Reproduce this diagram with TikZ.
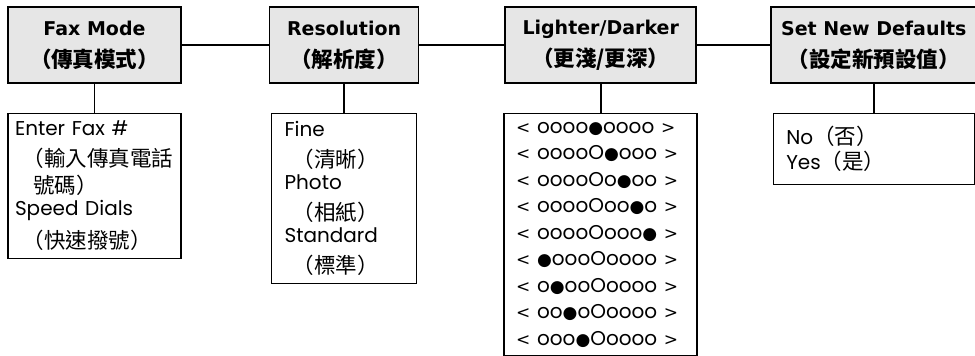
\documentclass[tikz,border=0pt]{standalone}
\usepackage{fontspec}
\setmainfont{Poppins}
\newfontfamily\cjk{Noto Sans CJK TC}
\newfontfamily\symf{DejaVu Sans}
\usetikzlibrary{positioning}
\definecolor{hdrgray}{RGB}{230,230,230}
\newcommand{\dotf}{{\symf\fontsize{17}{17}\selectfont ●}}
\newcommand{\zh}[1]{{\cjk\fontsize{21.5}{21.5}\selectfont #1}}
\newcommand{\lt}{{\symf\fontsize{17}{17}\selectfont <}}
\newcommand{\gt}{{\symf\fontsize{17}{17}\selectfont >}}

\begin{document}
\begin{tikzpicture}[x=1pt, y=-1pt, line width=1.6pt,
 hdr/.style={draw, fill=hdrgray, minimum height=76pt, align=center, inner sep=0pt, font=\symf\fontsize{19}{31}\selectfont\bfseries},
 sub/.style={draw, align=left, inner ysep=0pt, font=\fontsize{20}{26}\selectfont}]
\useasboundingbox (0,0) rectangle (975,356);
% menu headers
\node[hdr, minimum width=173pt] (fax) at (94.5,45) {Fax Mode\\[1pt]\zh{（傳真模式）}};
\node[hdr, minimum width=149pt, right=87pt of fax] (res) {Resolution\\[1pt]\zh{（解析度）}};
\node[hdr, minimum width=191pt, right=85pt of res] (ld) {Lighter/Darker\\[1pt]\zh{（更淺/更深）}};
\node[hdr, minimum width=206pt, right=73pt of ld] (snd) {Set New Defaults\\[1pt]\zh{（設定新預設值）}};
\draw (fax) -- (res);
\draw (res) -- (ld);
\draw (ld) -- (snd);
% option lists
\node[sub, inner xsep=7pt, text width=159pt, minimum height=145pt, below=29pt of fax] (fax1)
 {Enter Fax \#\\[5pt]
  \hspace*{8pt}\zh{（輸入傳真電話}\\[1pt]
  \hspace*{18pt}\zh{號碼）}\\[-4pt]
  Speed Dials\\[7pt]
  \hspace*{8pt}\zh{（快速撥號）}};
\node[sub, inner xsep=13pt, text width=119pt, minimum height=170pt, below=29pt of res] (res1)
 {Fine\\[5pt]
  \hspace*{8pt}\zh{（清晰）}\\[-4pt]
  Photo\\[5pt]
  \hspace*{8pt}\zh{（相紙）}\\[-4pt]
  Standard\\[5pt]
  \hspace*{8pt}\zh{（標準）}};
\node[sub, inner xsep=12pt, text width=169pt, minimum height=242pt, below=29pt of ld, font=\fontsize{20}{26.5}\selectfont] (ld1)
 {\lt\ oooo\dotf oooo \gt\\
  \lt\ ooooO\dotf ooo \gt\\
  \lt\ ooooOo\dotf oo \gt\\
  \lt\ ooooOoo\dotf o \gt\\
  \lt\ ooooOooo\dotf\ \gt\\
  \lt\ \dotf oooOoooo \gt\\
  \lt\ o\dotf ooOoooo \gt\\
  \lt\ oo\dotf oOoooo \gt\\
  \lt\ ooo\dotf Ooooo \gt};
\node[sub, inner xsep=13pt, text width=175pt, minimum height=71pt, below=29pt of snd, font=\fontsize{20}{25}\selectfont] (snd1)
 {No\zh{（否）}\\
  Yes\zh{（是）}};
\draw (fax) -- (fax1);
\draw (res) -- (res1);
\draw (ld) -- (ld1);
\draw (snd) -- (snd1);
\end{tikzpicture}
\end{document}
